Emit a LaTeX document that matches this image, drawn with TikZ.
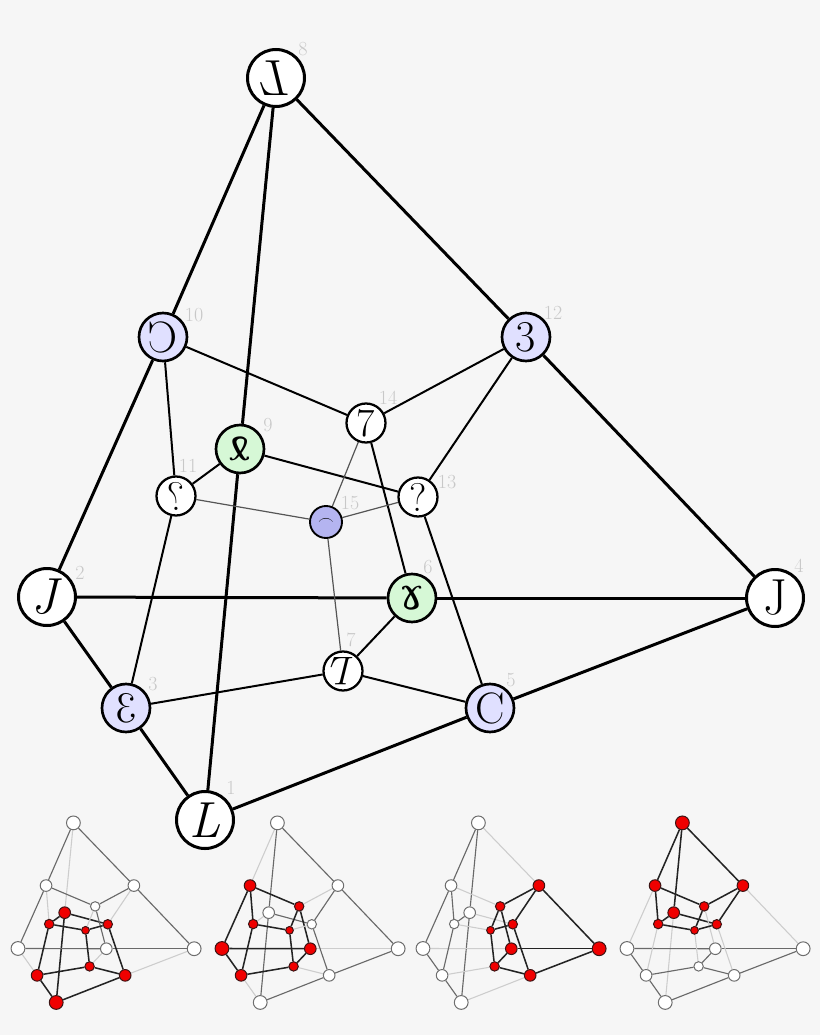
\documentclass[tikz,border=0pt]{standalone}
\usepackage{fontspec}
\usepackage{graphicx}
\newfontfamily\dvserif{DejaVu Serif}
\definecolor{bgc}{RGB}{246,246,246}
\definecolor{lavc}{RGB}{224,224,255}
\definecolor{grnc}{RGB}{214,248,214}
\definecolor{bluc}{RGB}{180,180,240}
\definecolor{lblc}{RGB}{200,200,200}
\definecolor{thinc}{RGB}{85,85,85}
\definecolor{tred}{RGB}{240,0,0}
\definecolor{tredb}{RGB}{60,20,20}
\definecolor{twb}{RGB}{110,110,110}
\definecolor{tdark}{RGB}{35,35,35}
\definecolor{tmid}{RGB}{105,105,105}
\definecolor{tlight}{RGB}{205,205,205}
\pgfdeclarelayer{bgl}
\pgfdeclarelayer{edges}
\pgfsetlayers{bgl,edges,main}
\tikzset{
  vtx/.style={circle, draw=black, inner sep=0pt, fill=white, text=black},
  vA/.style={vtx, minimum size=42.75pt, line width=2.25pt, font=\fontsize{38}{38}\selectfont},
  vB/.style={vtx, minimum size=36pt, line width=2pt, font=\fontsize{33}{33}\selectfont},
  vC/.style={vtx, minimum size=29.25pt, line width=1.7pt, font=\fontsize{30}{30}\selectfont},
  vD/.style={vtx, minimum size=24pt, line width=1.4pt, font=\fontsize{12}{12}\selectfont},
  lav/.style={fill=lavc}, grn/.style={fill=grnc}, blu/.style={fill=bluc},
  lbl/.style={text=lblc, font=\fontsize{15}{15}\selectfont, inner sep=0pt},
}
\begin{document}
\begin{tikzpicture}[x=0.75pt,y=-0.75pt]
\begin{pgfonlayer}{bgl}
\fill[bgc] (0,0) rectangle (820,1035);
\end{pgfonlayer}
\useasboundingbox (0,0) rectangle (820,1035);

% main graph nodes
\node[vA] (n8) at (276,78) {\reflectbox{\textit{L}}};
\node[vA] (n1) at (205,820) {\textit{L}};
\node[vA] (n2) at (47,597) {\textit{J}};
\node[vA] (n4) at (775,598) {J};
\node[vB,lav] (n10) at (163,337) {\reflectbox{C}};
\node[vB,lav] (n12) at (526,337) {3};
\node[vB,lav] (n3) at (126,708) {\reflectbox{3}};
\node[vB,lav] (n5) at (490,708) {C};
\node[vB,grn] (n9) at (240,449) {\rotatebox{180}{\dvserif ɤ}};
\node[vB,grn] (n6) at (412,598) {\dvserif ɤ};
\node[vC] (n14) at (366,423) {7};
\node[vC] (n13) at (418,497) {?};
\node[vC] (n11) at (176,496) {\reflectbox{?}};
\node[vC] (n7) at (343,671) {\rotatebox{180}{\textit{L}}};
\node[vD,blu] (n15) at (326,522) {\raisebox{-1.5pt}[0pt][0pt]{$\frown$}};

% labels
\foreach \v/\x/\y in {1/231/788, 2/80/573, 3/153/684, 4/799/566, 5/511/680,
  6/428/567, 7/351/640, 8/303/49, 9/268/425, 10/194/315, 11/188/466,
  12/553/313, 13/447/482, 14/388/398, 15/350/503}{
  \node[lbl] (l\v) at (\x,\y) {\v};
}

% main edges
\begin{pgfonlayer}{edges}
\foreach \a/\e/\w/\c in {8/10/2.25/black, 8/9/2.25/black, 8/12/2.25/black,
  1/9/2.25/black, 1/3/2.25/black, 1/5/2.25/black, 2/10/2.25/black,
  2/3/2.25/black, 2/6/2.25/black, 4/12/2.25/black, 4/6/2.25/black, 4/5/2.25/black,
  10/14/1.5/black, 10/11/1.5/black, 12/14/1.5/black, 12/13/1.5/black,
  9/11/1.5/black, 9/13/1.5/black, 3/11/1.5/black, 3/7/1.5/black,
  5/13/1.5/black, 5/7/1.5/black, 6/14/1.5/black, 6/7/1.5/black,
  15/14/0.9/thinc, 15/11/0.9/thinc, 15/13/0.9/thinc, 15/7/0.9/thinc}{
  \draw[draw=\c, line width=\w pt] (n\a) -- (n\e);
}
\end{pgfonlayer}

% thumbnails
\foreach \k/\ox/\bt in {1/6.6/1, 2/210.6/2, 3/411.6/4, 4/615.6/8}{
  \foreach \v/\x/\y/\d in {1/205/820/57, 2/47/597/57, 3/126/708/48, 4/775/598/57,
    5/490/708/48, 6/412/598/48, 7/343/671/39, 8/276/78/57, 9/240/449/48,
    10/163/337/48, 11/176/496/39, 12/526/337/48, 13/418/497/39, 14/366/423/39,
    15/326/522/32}{
    \pgfmathtruncatemacro{\m}{mod(floor(\v/\bt),2)}
    \ifnum\m=1 \def\fc{tred}\def\dc{tredb}\else\def\fc{white}\def\dc{twb}\fi
    \pgfmathsetmacro{\ds}{0.242*\d*0.75}
    \node[circle, inner sep=0pt, minimum size=\ds pt, fill=\fc, draw=\dc, line width=0.75pt]
      (t\k-\v) at (\ox+0.242*\x, 804+0.242*\y) {};
  }
  \begin{pgfonlayer}{edges}
  \foreach \a/\e in {8/10, 8/9, 8/12, 1/9, 1/3, 1/5, 2/10, 2/3, 2/6, 4/12, 4/6, 4/5,
    10/14, 10/11, 12/14, 12/13, 9/11, 9/13, 3/11, 3/7, 5/13, 5/7, 6/14, 6/7,
    15/14, 15/11, 15/13, 15/7}{
    \pgfmathtruncatemacro{\cc}{mod(floor(\a/\bt),2)+mod(floor(\e/\bt),2)}
    \ifcase\cc \def\ec{tmid}\def\ew{0.85}\or \def\ec{tlight}\def\ew{0.8}\or \def\ec{tdark}\def\ew{1.15}\fi
    \draw[draw=\ec, line width=\ew pt] (t\k-\a) -- (t\k-\e);
  }
  \end{pgfonlayer}
}
\end{tikzpicture}
\end{document}
